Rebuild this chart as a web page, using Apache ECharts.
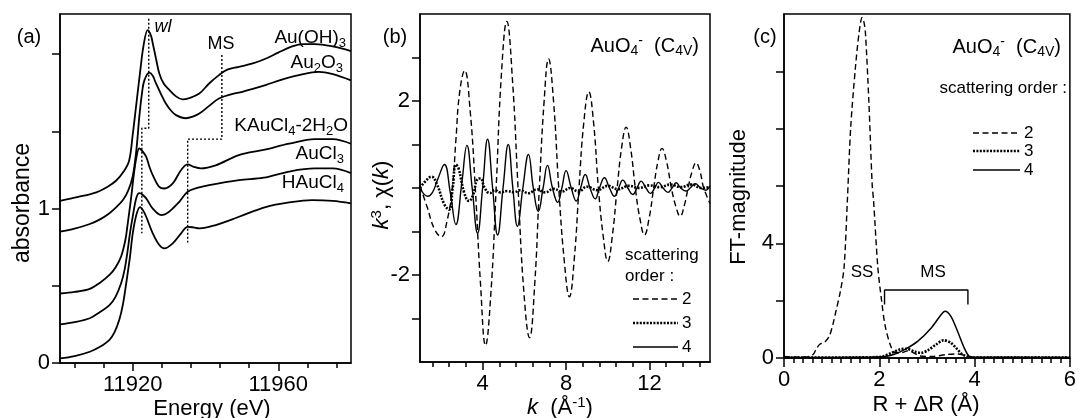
<!DOCTYPE html>
<html><head><meta charset="utf-8">
<script src="https://cdn.jsdelivr.net/npm/echarts@6/dist/echarts.min.js"></script>
<style>html,body{margin:0;padding:0;background:#fff}#c{width:1079px;height:418px}</style>
</head><body><div id="c"></div>
<script>
const FONT = '"Liberation Sans", Arial, Helvetica, sans-serif';

// ---------- Panel (a): XANES spectra [energy eV, absorbance] ----------
const auOH3 = [[11900,1.05],[11905,1.075],[11910,1.105],[11913,1.14],[11915.4,1.18],[11917.5,1.24],[11919,1.31],[11920,1.48],[11921,1.68],[11922,1.88],[11923,2.06],[11924.1,2.155],[11925,2.12],[11925.5,2.07],[11926.4,1.97],[11927.3,1.875],[11928.5,1.81],[11930,1.77],[11932,1.725],[11933.7,1.707],[11935.5,1.715],[11938.3,1.745],[11941,1.81],[11943.7,1.864],[11946,1.9],[11949.2,1.918],[11953,1.94],[11956.5,1.97],[11960,2.01],[11963.8,2.05],[11967,2.065],[11970.2,2.065],[11975,2.05],[11980,2.02]];
const au2O3 = [[11900,0.85],[11904,0.87],[11908.2,0.9],[11911,0.93],[11913.6,0.97],[11915.5,1.01],[11917.3,1.055],[11918.8,1.12],[11920,1.21],[11921,1.38],[11921.8,1.594],[11922.5,1.74],[11923.2,1.83],[11924.6,1.88],[11925.5,1.86],[11926.4,1.81],[11927.8,1.74],[11929.1,1.68],[11930.5,1.635],[11931.9,1.605],[11934.6,1.585],[11936.5,1.595],[11938.3,1.615],[11941,1.665],[11943.7,1.713],[11947,1.74],[11950.1,1.756],[11953,1.775],[11956.5,1.8],[11961,1.835],[11965.7,1.864],[11971.1,1.885],[11975,1.87],[11980,1.83]];
const kAuCl4 = [[11900,0.45],[11904,0.46],[11908.2,0.48],[11911,0.52],[11913.6,0.57],[11915.3,0.62],[11916.8,0.69],[11918,0.8],[11918.6,0.9],[11919.5,1.06],[11920.3,1.22],[11921,1.33],[11921.8,1.39],[11922.7,1.37],[11923.7,1.335],[11924.6,1.27],[11925.5,1.217],[11927.3,1.14],[11928.7,1.13],[11931,1.163],[11933.3,1.25],[11935.1,1.286],[11936.8,1.27],[11938.7,1.26],[11942.8,1.28],[11949.2,1.346],[11956,1.38],[11963,1.42],[11970,1.45],[11975,1.45],[11980,1.42]];
const auCl3 = [[11900,0.25],[11904,0.265],[11908.2,0.29],[11911,0.33],[11913.6,0.375],[11915.3,0.43],[11916.8,0.516],[11917.8,0.61],[11918.6,0.73],[11919.3,0.85],[11920,0.95],[11921,1.07],[11921.8,1.1],[11922.7,1.09],[11923.7,1.066],[11925.5,1.0],[11927.8,0.958],[11930,0.98],[11932.8,1.044],[11935.1,1.109],[11938,1.135],[11941,1.152],[11949.2,1.184],[11956,1.2],[11963,1.24],[11970,1.26],[11975,1.26],[11980,1.23]];
const hAuCl4 = [[11900,0.03],[11904,0.045],[11908.2,0.073],[11911,0.105],[11913.6,0.15],[11915,0.2],[11916.3,0.28],[11917.3,0.38],[11918.2,0.516],[11919.2,0.68],[11920,0.84],[11921,0.96],[11922,1.01],[11922.8,0.99],[11923.7,0.947],[11925.5,0.84],[11927.3,0.764],[11928.7,0.742],[11931,0.775],[11933.3,0.84],[11935.1,0.882],[11936.7,0.878],[11938.3,0.872],[11942.8,0.893],[11949.2,0.947],[11956.5,1.01],[11963,1.04],[11969.3,1.055],[11975,1.05],[11980,1.034]];
const wlGuide = [[11924.4,2.23],[11924.4,1.52],[11922.5,1.52],[11922.5,0.84]];
const msGuide = [[11944.5,1.995],[11944.5,1.45],[11935.1,1.45],[11935.1,0.78]];

// ---------- Panel (b): k^3 chi(k) by scattering order [k, value] ----------
const b2 = [[1.0,0.05],[1.35,-0.45],[1.7,-0.95],[2.02,-1.12],[2.3,-0.75],[2.55,0.0],[2.72,1.1],[2.9,2.2],[3.14,2.7],[3.4,1.8],[3.65,0.0],[3.9,-2.2],[4.14,-3.62],[4.4,-2.4],[4.65,0.0],[4.9,2.6],[5.16,3.83],[5.43,2.5],[5.7,0.0],[5.98,-2.4],[6.25,-3.44],[6.5,-2.2],[6.72,0.0],[6.95,2.0],[7.16,2.97],[7.4,2.0],[7.65,0.0],[7.92,-1.7],[8.16,-2.5],[8.4,-1.6],[8.62,0.0],[8.85,1.5],[9.09,2.21],[9.32,1.5],[9.55,0.0],[9.78,-1.1],[10.0,-1.69],[10.22,-1.1],[10.45,0.0],[10.67,0.95],[10.88,1.4],[11.1,0.9],[11.32,0.0],[11.54,-0.7],[11.76,-1.08],[11.98,-0.7],[12.2,0.0],[12.4,0.6],[12.6,0.91],[12.82,0.6],[13.05,0.0],[13.26,-0.42],[13.47,-0.65],[13.67,-0.4],[13.85,0.0],[14.04,0.38],[14.23,0.58],[14.42,0.38],[14.6,0.0],[14.9,-0.35]];
const b3 = [[1.0,0.0],[1.25,0.15],[1.55,0.26],[1.8,0.1],[2.17,-0.38],[2.4,-0.5],[2.56,-0.03],[2.72,0.54],[2.85,0.45],[3.12,-0.11],[3.35,-0.3],[3.55,-0.15],[3.75,0.2],[3.9,0.22],[4.1,0.0],[4.35,-0.12],[4.6,-0.05],[4.85,-0.1],[5.2,-0.07],[5.5,-0.1],[5.8,-0.05],[6.2,-0.12],[6.6,-0.03],[7.0,-0.1],[7.4,-0.02],[7.8,-0.08],[8.2,0.0],[8.6,-0.08],[9.0,0.03],[9.5,-0.05],[10.0,0.05],[10.5,-0.03],[11.0,0.05],[11.5,0.0],[12.0,0.06],[12.5,0.02],[13.0,0.08],[13.5,0.02],[14.0,0.08],[14.5,0.0],[14.9,0.02]];
const b4 = [[1.0,0.0],[1.37,-0.19],[1.6,-0.1],[1.85,0.2],[2.17,0.54],[2.45,-0.1],[2.72,-0.84],[3.0,0.1],[3.25,0.98],[3.5,0.0],[3.76,-1.04],[4.0,0.0],[4.24,1.12],[4.48,0.0],[4.72,-1.08],[4.98,0.0],[5.23,1.0],[5.45,0.0],[5.67,-0.88],[5.93,0.0],[6.2,0.77],[6.43,0.0],[6.67,-0.54],[6.9,0.0],[7.11,0.52],[7.35,0.0],[7.6,-0.33],[7.8,0.0],[8.0,0.4],[8.25,0.0],[8.49,-0.3],[8.7,0.0],[8.92,0.31],[9.15,0.0],[9.4,-0.25],[9.6,0.0],[9.84,0.235],[10.08,0.0],[10.32,-0.19],[10.52,0.0],[10.72,0.18],[10.96,0.0],[11.2,-0.15],[11.4,0.0],[11.6,0.157],[11.83,0.0],[12.05,-0.127],[12.25,0.0],[12.43,0.13],[12.65,0.0],[12.88,-0.1],[13.08,0.0],[13.28,0.12],[13.5,0.0],[13.76,-0.07],[13.95,0.0],[14.2,0.1],[14.45,0.0],[14.7,-0.05],[14.9,0.05]];

// ---------- Panel (c): FT magnitude by scattering order [R + dR, value] ----------
const c2 = [[0,0.05],[0.3,0.03],[0.5,0.05],[0.61,0.12],[0.68,0.32],[0.745,0.47],[0.85,0.55],[0.95,0.76],[1.03,1.2],[1.09,1.63],[1.18,2.3],[1.26,3.15],[1.33,5.49],[1.4,8.05],[1.5,10.15],[1.58,11.4],[1.64,11.88],[1.68,11.7],[1.71,11.32],[1.78,8.99],[1.85,6.07],[1.88,5.49],[1.97,3.15],[2.05,1.98],[2.12,1.15],[2.23,0.46],[2.32,0.2],[2.45,0.18],[2.6,0.25],[2.72,0.18],[2.85,0.07],[3.1,0.05],[3.4,0.12],[3.65,0.14],[3.83,0.07],[4.0,0.02],[5,0.02],[6,0.02]];
const c3 = [[0,0.02],[1.5,0.02],[1.9,0.03],[2.06,0.05],[2.26,0.18],[2.43,0.3],[2.57,0.32],[2.75,0.22],[2.88,0.18],[3.02,0.27],[3.2,0.48],[3.35,0.62],[3.5,0.53],[3.64,0.3],[3.74,0.13],[3.85,0.05],[4.0,0.02],[6,0.02]];
const c4 = [[0,0.02],[1,0.02],[1.8,0.03],[2.12,0.05],[2.3,0.12],[2.54,0.3],[2.81,0.59],[3.09,1.05],[3.3,1.52],[3.38,1.63],[3.5,1.46],[3.64,0.94],[3.78,0.36],[3.88,0.07],[4.0,0.03],[6,0.02]];
const msBracket = [[2.11,1.87],[2.11,2.37],[3.86,2.37],[3.86,1.87]];

// ---------- tick values / labels ----------
const aXMajor = [11920, 11960];
const aXMinor = [11904, 11912, 11928, 11936, 11944, 11952, 11968, 11976];
const aYTicks = [0, 0.5, 1, 1.5, 2];
const aYLabels = [0, 1];
const bXMajor = [4, 8, 12];
const bXMinor = [1.6, 2.4, 3.2, 4.8, 5.6, 6.4, 7.2, 8.8, 9.6, 10.4, 11.2, 12.8, 13.6, 14.4];
const bYTicks = [-3, -2, -1, 0, 1, 2, 3];
const bYLabels = [-2, 2];
const cYTicks = [0, 2, 4, 6, 8, 10];
const cYLabels = [0, 4];

const BLACK = '#000';
const LS = {color: BLACK, width: 1.5};
const DASH2 = [6, 3.5], DOT3 = [2, 1.4];
const plain = function (v) { return String(v); };

function richFor(size) {
  return {
    sub: {fontSize: Math.round(size * 0.68), lineHeight: 10, verticalAlign: 'bottom', fontFamily: FONT, fill: BLACK},
    sup: {fontSize: Math.round(size * 0.68), lineHeight: 10, verticalAlign: 'top', fontFamily: FONT, fill: BLACK},
    it: {fontSize: size, fontStyle: 'italic', fontFamily: FONT, fill: BLACK, lineHeight: size + 4}
  };
}
function T(x, y, text, size, align, opt) {
  opt = opt || {};
  return {type: 'text', x: x, y: y, rotation: opt.rot || 0, silent: true,
    style: {text: text, fill: BLACK, fontSize: size, fontFamily: FONT,
      fontStyle: opt.italic ? 'italic' : 'normal', lineHeight: size + 4,
      align: align, verticalAlign: 'middle', textAlign: align, textVerticalAlign: 'middle',
      rich: richFor(size)}};
}
function L(x1, y1, x2, y2, dash, w) {
  return {type: 'line', silent: true, shape: {x1: x1, y1: y1, x2: x2, y2: y2},
    style: {stroke: BLACK, lineWidth: w, lineDash: dash || null}};
}

const gridBase = {show: true, borderColor: BLACK, borderWidth: 1.5, containLabel: false};
const grids = [
  Object.assign({left: 60, top: 14, width: 291, height: 349}, gridBase),
  Object.assign({left: 420, top: 14, width: 290, height: 348}, gridBase),
  Object.assign({left: 784, top: 14, width: 290, height: 344}, gridBase),
  {left: 60, top: 14, width: 291, height: 349, show: false},
  {left: 420, top: 14, width: 290, height: 348, show: false}
];
const lblStyle = {fontSize: 22, color: BLACK, fontFamily: FONT, formatter: plain};

function xMain(gi, min, max, major) {
  return {gridIndex: gi, type: 'value', min: min, max: max, position: 'bottom',
    axisLine: {show: true, onZero: false, lineStyle: LS},
    axisTick: {show: true, customValues: major, length: 8, lineStyle: LS},
    axisLabel: Object.assign({customValues: major, margin: 11}, lblStyle),
    splitLine: {show: false}};
}
function yMain(gi, min, max, ticks, labels) {
  return {gridIndex: gi, type: 'value', min: min, max: max, position: 'left',
    axisLine: {show: true, onZero: false, lineStyle: LS},
    axisTick: {show: true, customValues: ticks, length: 8, lineStyle: LS},
    axisLabel: Object.assign({customValues: labels, margin: 10}, lblStyle),
    splitLine: {show: false}};
}
function xMinor(gi, min, max, ticks) {
  return {gridIndex: gi, type: 'value', min: min, max: max, position: 'bottom',
    axisLine: {show: false, onZero: false},
    axisTick: {show: true, customValues: ticks, length: 5, lineStyle: LS},
    axisLabel: {show: false}, splitLine: {show: false}};
}

const xAxes = [
  xMain(0, 11900, 11980, aXMajor),
  xMain(1, 1, 14.9, bXMajor),
  {gridIndex: 2, type: 'value', min: 0, max: 6, interval: 2, position: 'bottom',
    axisLine: {show: true, onZero: false, lineStyle: LS},
    axisTick: {show: true, length: 9, lineStyle: LS},
    minorTick: {show: true, splitNumber: 10, length: 5, lineStyle: LS},
    axisLabel: Object.assign({margin: 11}, lblStyle), splitLine: {show: false}},
  xMinor(3, 11900, 11980, aXMinor),
  xMinor(4, 1, 14.9, bXMinor)
];
const yAxes = [
  yMain(0, 0, 2.26, aYTicks, aYLabels),
  yMain(1, -4, 4, bYTicks, bYLabels),
  yMain(2, 0, 12, cYTicks, cYLabels),
  {gridIndex: 3, type: 'value', min: 0, max: 1, show: false},
  {gridIndex: 4, type: 'value', min: 0, max: 1, show: false}
];

function S(name, xi, data, w, dash, smooth) {
  return {name: name, type: 'line', xAxisIndex: xi, yAxisIndex: xi, data: data,
    symbol: 'none', smooth: smooth, silent: true,
    lineStyle: {color: BLACK, width: w, type: dash || 'solid'}};
}
const series = [
  S('Au(OH)3', 0, auOH3, 1.8, null, 0.35),
  S('Au2O3', 0, au2O3, 1.8, null, 0.35),
  S('KAuCl4-2H2O', 0, kAuCl4, 1.8, null, 0.35),
  S('AuCl3', 0, auCl3, 1.8, null, 0.35),
  S('HAuCl4', 0, hAuCl4, 1.8, null, 0.35),
  S('wl', 0, wlGuide, 1.4, [2, 2], false),
  S('MS', 0, msGuide, 1.4, [2, 2], false),
  S('2', 1, b2, 1.4, DASH2, 0.45),
  S('3', 1, b3, 2.6, DOT3, 0.45),
  S('4', 1, b4, 1.4, null, 0.45),
  S('2', 2, c2, 1.4, DASH2, 0.3),
  S('3', 2, c3, 2.6, DOT3, 0.3),
  S('4', 2, c4, 1.5, null, 0.3),
  S('MS bracket', 2, msBracket, 1.4, null, false)
];

const graphics = [
  // panel (a)
  T(29, 37, '(a)', 20, 'center'),
  T(163, 27, 'wl', 18, 'center', {italic: true}),
  T(221, 44, 'MS', 18, 'center'),
  T(346, 38, 'Au(OH){sub|3}', 19, 'right'),
  T(343, 63, 'Au{sub|2}O{sub|3}', 19, 'right'),
  T(348, 126, 'KAuCl{sub|4}-2H{sub|2}O', 19, 'right'),
  T(344, 154, 'AuCl{sub|3}', 19, 'right'),
  T(344, 183, 'HAuCl{sub|4}', 19, 'right'),
  T(23, 203, 'absorbance', 23, 'center', {rot: Math.PI / 2}),
  T(212, 409, 'Energy (eV)', 22, 'center'),
  // panel (b)
  T(395, 37, '(b)', 20, 'center'),
  T(699, 46, 'AuO{sub|4}{sup|-}  (C{sub|4V})', 20, 'right'),
  T(625, 255, 'scattering', 17, 'left'),
  T(625, 276, 'order :', 17, 'left'),
  L(633, 299, 678, 299, DASH2, 1.4), T(682, 299, '2', 17, 'left'),
  L(633, 323, 678, 323, DOT3, 2.6), T(682, 323, '3', 17, 'left'),
  L(633, 347, 678, 347, null, 1.4), T(682, 347, '4', 17, 'left'),
  T(382, 195, '{it|k}{sup|3}, χ({it|k})', 22, 'center', {rot: Math.PI / 2}),
  T(560, 408, '{it|k}  (Å{sup|-1})', 22, 'center'),
  // panel (c)
  T(765, 37, '(c)', 20, 'center'),
  T(1061, 47, 'AuO{sub|4}{sup|-}  (C{sub|4V})', 20, 'right'),
  T(1067, 88, 'scattering order :', 17, 'right'),
  L(973, 133, 1020, 133, DASH2, 1.4), T(1024, 133, '2', 17, 'left'),
  L(973, 151, 1020, 151, DOT3, 2.6), T(1024, 151, '3', 17, 'left'),
  L(973, 170, 1020, 170, null, 1.4), T(1024, 170, '4', 17, 'left'),
  T(862, 272, 'SS', 17, 'center'),
  T(933, 272, 'MS', 17, 'center'),
  T(739, 197, 'FT-magnitude', 22, 'center', {rot: Math.PI / 2}),
  T(926, 405, 'R + ΔR (Å)', 22, 'center')
];

const chart = echarts.init(document.getElementById('c'), null, {renderer: 'canvas'});
chart.setOption({
  animation: false,
  backgroundColor: '#fff',
  textStyle: {fontFamily: FONT},
  grid: grids,
  xAxis: xAxes,
  yAxis: yAxes,
  series: series,
  graphic: graphics
});
</script></body></html>
